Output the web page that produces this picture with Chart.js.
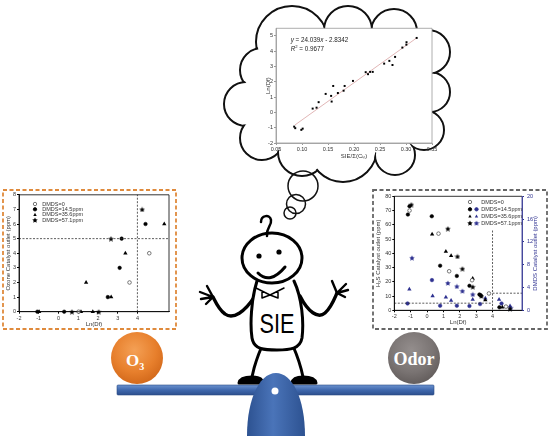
<!DOCTYPE html>
<html><head><meta charset="utf-8">
<script src="https://cdn.jsdelivr.net/npm/chart.js@4.4.1/dist/chart.umd.min.js"></script>
<style>
html,body{margin:0;padding:0;background:#fff;width:550px;height:436px;overflow:hidden}
svg{position:absolute;left:0;top:0}
canvas{position:absolute}
#c1{left:255px;top:22px}
#c2{left:3px;top:190px}
#c3{left:373px;top:190px}
</style></head><body>
<svg width="550" height="436" viewBox="0 0 550 436" xmlns="http://www.w3.org/2000/svg">
<defs>
  <radialGradient id="gO" cx="45%" cy="35%" r="70%"><stop offset="0" stop-color="#f4a055"/><stop offset="0.6" stop-color="#e77f2c"/><stop offset="1" stop-color="#cf6518"/></radialGradient>
  <radialGradient id="gG" cx="45%" cy="35%" r="70%"><stop offset="0" stop-color="#948e8d"/><stop offset="0.6" stop-color="#7a7473"/><stop offset="1" stop-color="#5f5958"/></radialGradient>
  <linearGradient id="gB" x1="0" y1="0" x2="0" y2="1"><stop offset="0" stop-color="#6b92cf"/><stop offset="0.5" stop-color="#3f68ad"/><stop offset="1" stop-color="#2c4f8e"/></linearGradient>
  <linearGradient id="gF" x1="0" y1="0" x2="1" y2="0"><stop offset="0" stop-color="#2d5291"/><stop offset="0.45" stop-color="#4a74b9"/><stop offset="1" stop-color="#2d5291"/></linearGradient>
</defs>
<g id="cloud"></g>
<g fill="none" stroke="#111" stroke-width="1.5">
  <circle cx="303" cy="186" r="15"/>
  <circle cx="296" cy="204" r="9.5"/>
  <circle cx="290" cy="213" r="6"/>
</g>
<rect x="3" y="190" width="173" height="139" fill="none" stroke="#df8a3c" stroke-width="1.8" stroke-dasharray="4 2.5"/>
<rect x="373" y="190" width="174" height="139" fill="none" stroke="#666" stroke-width="1.8" stroke-dasharray="4 2.5"/>
<!-- seesaw plank -->
<rect x="117" y="385" width="317" height="10" rx="1" fill="url(#gB)" stroke="#2a4a85" stroke-width="0.6"/>
<!-- balls -->
<circle cx="137" cy="358" r="26" fill="url(#gO)"/>
<text x="126" y="366" font-family="'Liberation Serif','Times New Roman',serif" font-weight="bold" font-size="17" fill="#fff">O<tspan font-size="10" dy="4">3</tspan></text>
<circle cx="414" cy="358" r="26" fill="url(#gG)"/>
<text x="414" y="364.5" text-anchor="middle" font-family="'Liberation Serif','Times New Roman',serif" font-weight="bold" font-size="18" fill="#fff">Odor</text>
<!-- character -->
<g stroke="#000" stroke-width="3" stroke-linecap="round" stroke-linejoin="round" fill="none">
  <path d="M262,346 Q255,362 252,377"/>
  <path d="M293,346 Q300,362 303,377"/>
  <path d="M239,383 Q240,377 252,377 Q262,377 263,383 Z" fill="#000"/>
  <path d="M292,383 Q293,377 303,377 Q315,377 316,383 Z" fill="#000"/>
  <path d="M255,296 C245,312 233,320 225,314 C219,310 216,303 213,297" stroke-width="3.4"/>
  <path d="M300,296 C308,312 318,319 325,313 C331,308 334,300 337,293" stroke-width="3.4"/>
  <g stroke-width="2.4">
    <path d="M213,297 L207,286 M213,297 L200,292 M213,297 L201,299 M213,297 L206,304"/>
    <path d="M337,293 L332,281 M337,293 L346,284 M337,293 L348,290 M337,293 L345,297"/>
  </g>
  <path d="M257,281 C251,300 250,325 252,338 C254,350 265,350 277,350 C290,350 300,349 302,338 C304,322 302,298 294,281" fill="#fff"/>
  <ellipse cx="272" cy="258" rx="30" ry="25" fill="#fff"/>
  <path d="M261,222 C261,215 270,214 271,220 C272,226 266,227 267,236" stroke-width="2.5"/>
  <path d="M258,273 Q270,285 285,267"/>
  <path d="M256,288 L270,295 L284,288 M262,291 L262,298 L270,295 L278,298 L278,291" stroke-width="1.5"/>
</g>
<circle cx="259" cy="256" r="2.6" fill="#000"/>
<circle cx="279" cy="252" r="2.6" fill="#000"/>
<text x="277" y="333" text-anchor="middle" font-family="'Liberation Sans',Arial,sans-serif" font-size="27" textLength="35" lengthAdjust="spacingAndGlyphs" fill="#000">SIE</text>
<!-- fulcrum -->
<path d="M247,436 C247,398 260,373 276,373 C292,373 305,398 305,436 Z" fill="url(#gF)"/>
<circle cx="275" cy="391" r="3.5" fill="#fff"/>
</svg>
<canvas id="c1" width="185" height="142"></canvas>
<canvas id="c2" width="173" height="138"></canvas>
<canvas id="c3" width="174" height="138"></canvas>
<script>
// ================= DATA =================
// Top chart (thought bubble): Ln(Df) vs SIE/Σ(Cin)
const sieX  = [0.085,0.087,0.0987,0.1013,0.1205,0.128,0.132,0.1455,0.156,0.157,0.160,0.169,0.180,0.182,0.198,0.2225,0.227,0.231,0.236,0.258,0.268,0.274,0.279,0.293,0.3007,0.301,0.3205];
const lnDf  = [-0.93,-1.03,-1.14,-1.06,0.25,0.31,0.67,1.21,1.08,0.71,1.73,1.27,1.42,1.73,2.06,2.63,2.50,2.65,2.65,3.19,3.37,3.10,3.63,4.24,4.43,4.59,4.87];
const fitLineX = [0.0865, 0.3205];
const fitLineY = [-0.82, 4.87];
const topXTicks = [0.05,0.10,0.15,0.20,0.25,0.30,0.35];

// Left chart: Ozone catalyst outlet vs Ln(Df)
const o3X0   = [3.6, 4.6, 1.02];
const o3Y0   = [2, 4, 0];
const o3X145 = [-1.07, 0.29, 2.5, 3.1, 3.2, 4.41];
const o3Y145 = [0, 0, 1, 3, 5, 6];
const o3X356 = [-0.98, 1.14, 1.4, 1.74, 2.67, 3.39, 5.36];
const o3Y356 = [0, 0, 2, 0, 1, 4, 6];
const o3X571 = [0.68, 2.04, 2.66, 4.24];
const o3Y571 = [0, 0, 5, 7];
const o3LimitHX = [-2, 5.6], o3LimitHY = [5, 5];
const o3LimitVX = [4, 4],    o3LimitVY = [0, 8];

// Right chart: H2S (left axis) and DMDS (right axis) catalyst outlet vs Ln(Df)
const h2sX0   = [-1.07, 0.70, 1.35, 2.75, 3.78, 4.82];
const h2sY0   = [70, 53.8, 27.4, 21.1, 11.8, 2.6];
const h2sX145 = [-1.17, -1.07, 0.29, 0.80, 1.82, 2.59, 3.2, 3.28, 4.42];
const h2sY145 = [67.2, 73, 66, 31.3, 24.1, 17.2, 11.1, 10.5, 2.1];
const h2sX356 = [0.31, 1.15, 1.47, 2.79, 3.56, 4.6];
const h2sY356 = [53.3, 41.3, 38.3, 22.3, 7.2, 2.1];
const h2sX571 = [-0.96, 1.27, 1.86, 2.16, 2.79, 3.32, 5.07];
const h2sY571 = [74.2, 57.3, 37.8, 29.2, 16.5, 10, 1.2];
const dmX145  = [-1.19, 0.30, 0.80, 1.82, 2.59, 3.24, 4.55];
const dmY145  = [1.2, 5.3, 0.8, 0.8, 0.75, 1.1, 1.2];
const dmX356  = [-1.08, 0.34, 1.15, 1.47, 2.79, 3.56, 4.4, 5.07];
const dmY356  = [3.7, 2.5, 2.3, 1.7, 1.9, 2.1, 1.9, 0.75];
const dmX571  = [-0.92, 1.27, 1.82, 2.16, 2.79, 5.1];
const dmY571  = [9.2, 4.8, 4.2, 3.4, 2.8, 0.45];
const h2sLimitX = [-2, 4],   h2sLimitY = [5, 5];
const dfLimitX  = [4, 4],    dfLimitY  = [14, 0];
const dmLimitX  = [4, 5.8],  dmLimitY  = [3, 3];

const legendLabels = ['DMDS=0', 'DMDS=14.5ppm', 'DMDS=35.6ppm', 'DMDS=57.1ppm'];
const dmdsAxisTitle = 'DMDS Catalyst outlet (ppm)';

// ================= DRAWING =================
// cloud
(function(){
  const circles = [[292,42,36],[262,70,22],[246,104,22],[262,138,22],[302,152,24],[343,148,34],[395,155,20],[424,130,20],[430,92,20],[428,52,22],[394,32,23],[348,30,24]];
  const g = document.getElementById('cloud');
  let html = '';
  circles.forEach(c => html += `<circle cx="${c[0]}" cy="${c[1]}" r="${c[2]}" fill="#fff" stroke="#111" stroke-width="2"/>`);
  circles.forEach(c => html += `<circle cx="${c[0]}" cy="${c[1]}" r="${c[2]-1.5}" fill="#fff"/>`);
  html += `<polygon points="${circles.map(c=>c[0]+','+c[1]).join(' ')}" fill="#fff"/>`;
  g.innerHTML = html;
})();

Chart.defaults.font.family = "'Liberation Sans', Arial, Helvetica, sans-serif";
Chart.defaults.color = '#333';
const NAVY = '#2e3190';

function starImg(color, size){
  const c = document.createElement('canvas');
  c.width = size; c.height = size;
  const g = c.getContext('2d');
  g.fillStyle = color; g.beginPath();
  for (let i = 0; i < 10; i++) {
    const r = i % 2 ? size * 0.24 : size * 0.48;
    const a = -Math.PI / 2 + i * Math.PI / 5;
    g.lineTo(size / 2 + r * Math.cos(a), size / 2 + 0.3 + r * Math.sin(a));
  }
  g.closePath(); g.fill();
  return c;
}
const starBlack = starImg('#000', 6);
const starNavy = starImg(NAVY, 6);

function drawMarker(ctx, style, x, y, r, fill, stroke){
  ctx.save(); ctx.fillStyle = fill; ctx.strokeStyle = stroke; ctx.lineWidth = 0.8;
  if (style === 'circle') { ctx.beginPath(); ctx.arc(x, y, r, 0, Math.PI * 2); ctx.fill(); ctx.stroke(); }
  else if (style === 'triangle') {
    ctx.beginPath(); ctx.moveTo(x, y - r * 1.1); ctx.lineTo(x + r, y + r * 0.75); ctx.lineTo(x - r, y + r * 0.75); ctx.closePath(); ctx.fill();
  } else { ctx.drawImage(style, x - style.width / 2, y - style.height / 2); }
  ctx.restore();
}

const pts = (xs, ys) => xs.map((x, i) => ({x, y: ys[i]}));

const framePlugin = {
  id: 'frame',
  beforeDraw(chart, args, o){
    const {ctx, chartArea: a} = chart;
    ctx.save(); ctx.fillStyle = '#fff'; ctx.fillRect(a.left, a.top, a.right - a.left, a.bottom - a.top); ctx.restore();
  },
  afterDraw(chart, args, o){
    const {ctx, chartArea: a} = chart;
    ctx.save(); ctx.lineWidth = o.width || 0.8; ctx.strokeStyle = o.color || '#000';
    ctx.beginPath(); ctx.moveTo(a.right, a.top); ctx.lineTo(a.left, a.top); ctx.lineTo(a.left, a.bottom); ctx.lineTo(a.right, a.bottom); ctx.stroke();
    ctx.strokeStyle = o.rightColor || o.color || '#000';
    ctx.beginPath(); ctx.moveTo(a.right, a.top); ctx.lineTo(a.right, a.bottom); ctx.stroke();
    ctx.restore();
    if (o.extra) o.extra(chart);
  }
};

function xAxis(min, max, step, title, height, padBottom, fmt, color){
  return {
    type: 'linear', min, max,
    ticks: {stepSize: step, autoSkip: false, maxRotation: 0, font: {size: 5.5}, padding: 1, callback: fmt, color: '#333'},
    grid: {drawOnChartArea: false, tickLength: 2, color: color},
    border: {color: color, width: 0.8},
    title: {display: true, text: title, font: {size: 6}, padding: {top: 0, bottom: padBottom}, color: '#333'},
    afterBuildTicks: s => { s.ticks = s.ticks.filter(t => Math.abs(t.value / step - Math.round(t.value / step)) < 1e-6); },
    afterFit: s => { s.height = height; }
  };
}
function yAxis(min, max, step, title, width, padTop, color, pos, tcolor){
  return {
    type: 'linear', min, max, position: pos || 'left',
    ticks: {stepSize: step, autoSkip: false, font: {size: 5.5}, padding: 1, color: tcolor || '#333'},
    grid: {drawOnChartArea: false, tickLength: 2, color: color},
    border: {color: color, width: 0.8},
    title: {display: !!title, text: title, font: {size: 6}, padding: {top: padTop, bottom: 0}, color: tcolor || '#333'},
    afterBuildTicks: s => { s.ticks = s.ticks.filter(t => Math.abs(t.value / step - Math.round(t.value / step)) < 1e-6); },
    afterFit: s => { s.width = width; }
  };
}
const baseOpts = {responsive: false, animation: false, events: []};

// ---------- top chart ----------
new Chart(document.getElementById('c1'), {
  type: 'scatter',
  data: {datasets: [
    {data: pts(sieX, lnDf), pointStyle: 'rect', pointRadius: 1.4, backgroundColor: '#000', borderWidth: 0, clip: false},
    {data: pts(fitLineX, fitLineY), showLine: true, borderColor: '#d9a3a3', borderWidth: 0.8, pointRadius: 0}
  ]},
  options: Object.assign({}, baseOpts, {
    layout: {padding: {top: 6.3, right: 8, left: 0, bottom: 0}},
    plugins: {legend: {display: false}, tooltip: {enabled: false},
      frame: {color: '#999', extra(chart){
        const ctx = chart.ctx, a = chart.chartArea;
        ctx.save(); ctx.fillStyle = '#222'; ctx.textBaseline = 'alphabetic';
        const sz = 6.3;
        const run = (parts, x, y) => parts.forEach(p => {
          ctx.font = `${p[1] || ''} ${p[2] || sz}px 'Liberation Sans', Arial, sans-serif`;
          ctx.fillText(p[0], x, y + (p[3] || 0)); x += ctx.measureText(p[0]).width;
        });
        run([['y','italic'],[' = 24.039'],['x','italic'],[' - 2.8342']], a.left + 14.7, a.top + 13.9);
        run([['R','italic'],['2','',4.2,-2.5],[' = 0.9677']], a.left + 14.7, a.top + 22.2);
        ctx.restore();
      }}
    },
    scales: {
      x: Object.assign(xAxis(0.05, 0.35, 0.05, 'SIE/\u03A3(C\u1D62\u2099)', 21, 4, v => v.toFixed(2), '#999'), {afterBuildTicks: s => { s.ticks = topXTicks.map(v => ({value: v})); }}),
      y: yAxis(-2, 5.5, 1, 'Ln(Df)', 21, 9.7, '#999')
    }
  }),
  plugins: [framePlugin]
});

// ---------- left chart ----------
const o3Styles = [
  {pointStyle: 'circle', pointRadius: 1.8, backgroundColor: '#fff', borderColor: '#555', borderWidth: 0.8},
  {pointStyle: 'circle', pointRadius: 1.8, backgroundColor: '#000', borderColor: '#000', borderWidth: 0.5},
  {pointStyle: 'triangle', pointRadius: 2.5, backgroundColor: '#000', borderColor: '#000', borderWidth: 0},
  {pointStyle: starBlack, pointRadius: 2.5, backgroundColor: '#000', borderWidth: 0}
];
const dashLine = (xs, ys, yAxisID) => ({data: pts(xs, ys), showLine: true, borderColor: '#333', borderWidth: 0.8, borderDash: [2, 1.5], pointRadius: 0, yAxisID: yAxisID || 'y', clip: false});
new Chart(document.getElementById('c2'), {
  type: 'scatter',
  data: {datasets: [
    dashLine(o3LimitHX, o3LimitHY), dashLine(o3LimitVX, o3LimitVY),
    Object.assign({data: pts(o3X0, o3Y0), clip: false}, o3Styles[0]),
    Object.assign({data: pts(o3X145, o3Y145), clip: false}, o3Styles[1]),
    Object.assign({data: pts(o3X356, o3Y356), clip: false}, o3Styles[2]),
    Object.assign({data: pts(o3X571, o3Y571), clip: false}, o3Styles[3])
  ]},
  options: Object.assign({}, baseOpts, {
    layout: {padding: {top: 4, right: 7, left: 0, bottom: 0}},
    plugins: {legend: {display: false}, tooltip: {enabled: false},
      frame: {color: '#000', extra(chart){
        const ctx = chart.ctx;
        const rows = [14, 19.3, 24.7, 30], mk = ['circle','circle','triangle',starBlack];
        const fills = ['#fff','#000','#000','#000'];
        ctx.save(); ctx.font = "5.5px 'Liberation Sans', Arial, sans-serif"; ctx.fillStyle = '#333'; ctx.textBaseline = 'middle';
        legendLabels.forEach((lab, i) => {
          drawMarker(ctx, mk[i], 32, rows[i], 1.7, fills[i], i === 0 ? '#555' : '#000');
          ctx.fillStyle = '#333'; ctx.fillText(lab, 39.3, rows[i]);
        });
        ctx.restore();
      }}
    },
    scales: {
      x: xAxis(-2, 5.6, 1, 'Ln(Df)', 16.3, 0.4, undefined, '#000'),
      y: yAxis(0, 8, 1, 'Ozone Catalyst outlet (ppm)', 16, 1.4, '#000')
    }
  }),
  plugins: [framePlugin]
});

// ---------- right chart ----------
const navyStyles = [
  null,
  {pointStyle: 'circle', pointRadius: 1.8, backgroundColor: NAVY, borderColor: NAVY, borderWidth: 0.5},
  {pointStyle: 'triangle', pointRadius: 2.5, backgroundColor: NAVY, borderColor: NAVY, borderWidth: 0},
  {pointStyle: starNavy, pointRadius: 2.5, backgroundColor: NAVY, borderWidth: 0}
];
new Chart(document.getElementById('c3'), {
  type: 'scatter',
  data: {datasets: [
    dashLine(h2sLimitX, h2sLimitY, 'y'), dashLine(dfLimitX, dfLimitY, 'y2'), dashLine(dmLimitX, dmLimitY, 'y2'),
    Object.assign({data: pts(h2sX0, h2sY0), yAxisID: 'y', clip: false}, o3Styles[0]),
    Object.assign({data: pts(h2sX145, h2sY145), yAxisID: 'y', clip: false}, o3Styles[1]),
    Object.assign({data: pts(h2sX356, h2sY356), yAxisID: 'y', clip: false}, o3Styles[2]),
    Object.assign({data: pts(h2sX571, h2sY571), yAxisID: 'y', clip: false}, o3Styles[3]),
    Object.assign({data: pts(dmX145, dmY145), yAxisID: 'y2', clip: false}, navyStyles[1]),
    Object.assign({data: pts(dmX356, dmY356), yAxisID: 'y2', clip: false}, navyStyles[2]),
    Object.assign({data: pts(dmX571, dmY571), yAxisID: 'y2', clip: false}, navyStyles[3])
  ]},
  options: Object.assign({}, baseOpts, {
    layout: {padding: {top: 5.3, right: 0, left: 0, bottom: 0}},
    plugins: {legend: {display: false}, tooltip: {enabled: false},
      frame: {color: '#000', rightColor: NAVY, extra(chart){
        const ctx = chart.ctx, a = chart.chartArea;
        const rows = [12, 19.3, 26.3, 33];
        const mk1 = ['circle','circle','triangle',starBlack], mk2 = [null,'circle','triangle',starNavy];
        ctx.save(); ctx.font = "5.5px 'Liberation Sans', Arial, sans-serif"; ctx.textBaseline = 'middle';
        legendLabels.forEach((lab, i) => {
          drawMarker(ctx, mk1[i], 97, rows[i], 1.7, i === 0 ? '#fff' : '#000', i === 0 ? '#555' : '#000');
          if (mk2[i]) drawMarker(ctx, mk2[i], 103.5, rows[i], 1.7, NAVY, NAVY);
          ctx.fillStyle = '#333'; ctx.fillText(lab, 108.3, rows[i]);
        });
        // right axis title, reading bottom-to-top
        ctx.translate(162.5, (a.top + a.bottom) / 2); ctx.rotate(-Math.PI / 2);
        ctx.font = "6px 'Liberation Sans', Arial, sans-serif"; ctx.fillStyle = NAVY; ctx.textAlign = 'center';
        ctx.fillText(dmdsAxisTitle, 0, 0);
        ctx.restore();
      }}
    },
    scales: {
      x: xAxis(-2, 5.8, 1, 'Ln(Df)', 17.7, 2.4, undefined, '#000'),
      y: yAxis(0, 80, 10, 'H\u2082S Catalyst outlet (ppm)', 21.3, 1.7, '#000'),
      y2: Object.assign(yAxis(0, 20, 4, '', 25, 2.4, NAVY, 'right', NAVY), {ticks: {stepSize: 4, autoSkip: false, font: {size: 5.5}, padding: 3, color: NAVY}})
    }
  }),
  plugins: [framePlugin]
});
</script>
</body></html>
